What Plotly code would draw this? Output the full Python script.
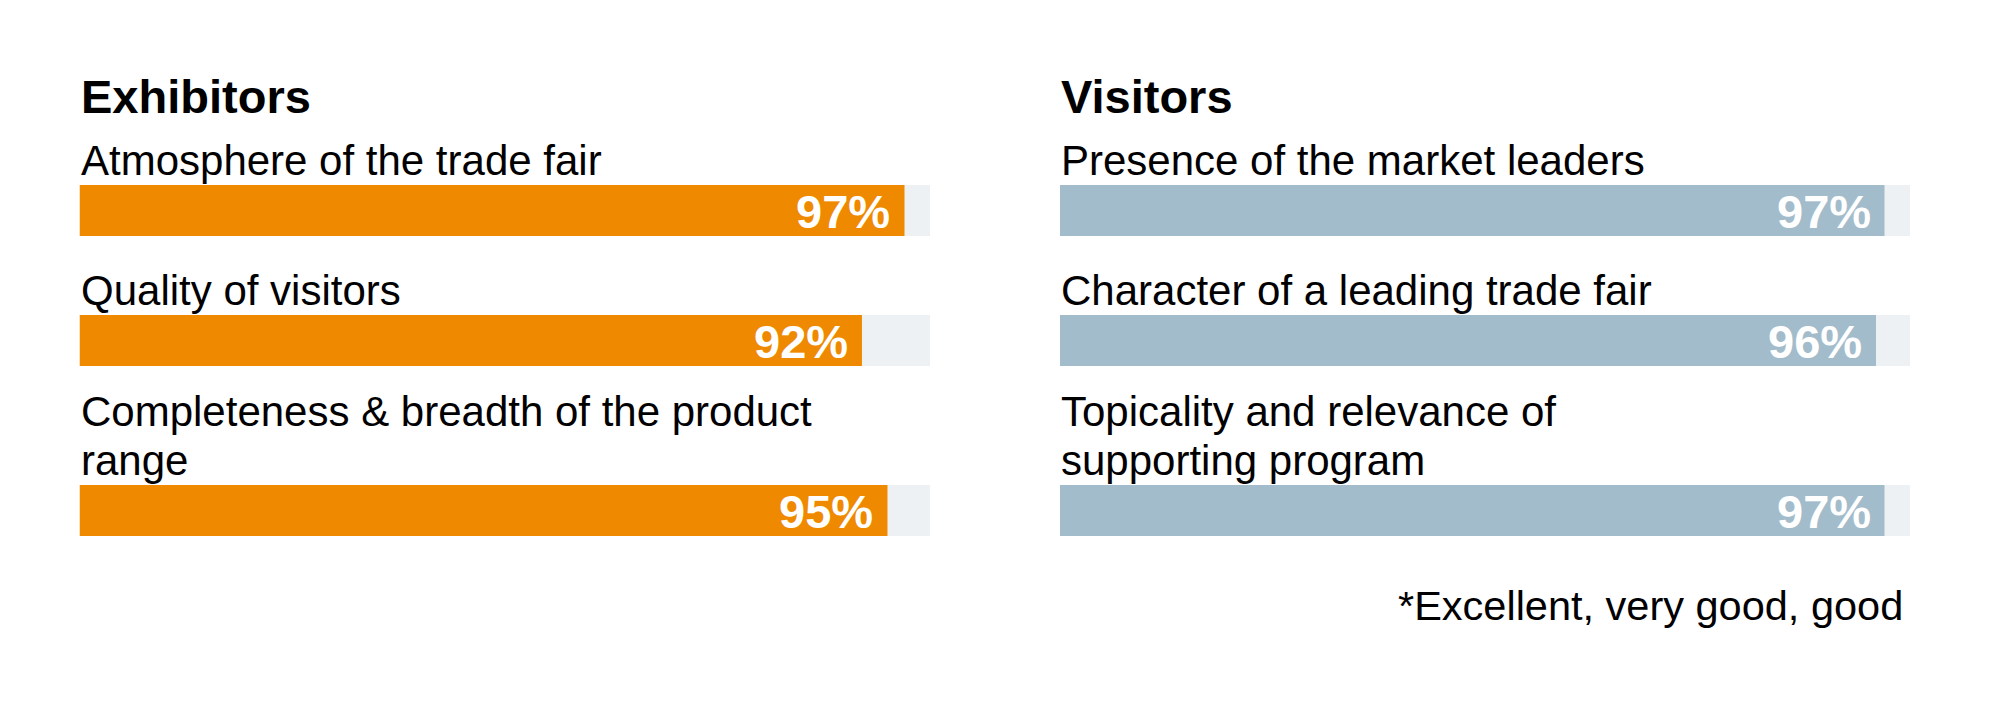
import plotly.graph_objects as go

# data
exhibitor_labels = ["Atmosphere of the trade fair",
                    "Quality of visitors",
                    "Completeness & breadth of the product<br>range"]
exhibitor_values = [97, 92, 95]

visitor_labels = ["Presence of the market leaders",
                  "Character of a leading trade fair",
                  "Topicality and relevance of<br>supporting program"]
visitor_values = [97, 96, 97]

panel_titles = ["Exhibitors", "Visitors"]
footnote = "*Excellent, very good, good"

# styles / layout (page pixel units on y; the page body has an 8px margin)
PAGE_W, PAGE_H = 2000, 706
PAD = 8
W, H = PAGE_W - 2 * PAD, PAGE_H - 2 * PAD
ORANGE = "#EF8A00"
STEEL = "#A3BCCB"
TRACK = "#EEF1F4"
FONT = "Liberation Sans, Arial, sans-serif"
LABEL_FS = 42
BAR_H = 51
FIRST_TOP = 185
ROW_GAP = 39
LINE_STEP = 40
TEXT_LINE_H = 49


def px(x):
    # page x pixel -> paper fraction of the figure
    return (x - PAD) / W


def row_tops(labels):
    tops = []
    t = FIRST_TOP
    for i, lab in enumerate(labels):
        if i > 0:
            t += BAR_H + ROW_GAP + LINE_STEP * (lab.count("<br>") + 1)
        tops.append(t)
    return tops


fig = go.Figure()
annotations = []

panels = [
    ("x", exhibitor_labels, exhibitor_values, ORANGE, panel_titles[0]),
    ("x2", visitor_labels, visitor_values, STEEL, panel_titles[1]),
]

for xref, labels, values, color, title in panels:
    tops = row_tops(labels)
    centers = [t + BAR_H / 2 for t in tops]
    fig.add_trace(go.Bar(x=[100] * len(values), y=centers, orientation="h",
                         width=BAR_H, marker_color=TRACK, marker_line_width=0,
                         xaxis=xref, yaxis="y", hoverinfo="skip", showlegend=False))
    fig.add_trace(go.Bar(x=values, y=centers, orientation="h",
                         width=BAR_H, marker_color=color, marker_line_width=0,
                         xaxis=xref, yaxis="y", showlegend=False))
    annotations.append(dict(x=0, y=124, xref=xref, yref="y", text="<b>%s</b>" % title,
                            xanchor="left", yanchor="bottom", showarrow=False, borderpad=0,
                            font=dict(family=FONT, size=47, color="black")))
    for lab, v, t, c in zip(labels, values, tops, centers):
        lines = lab.split("<br>")
        for k, line in enumerate(reversed(lines)):
            annotations.append(dict(x=0, y=t - k * TEXT_LINE_H, xref=xref, yref="y",
                                    text=line, xanchor="left", yanchor="bottom",
                                    showarrow=False, borderpad=0,
                                    font=dict(family=FONT, size=LABEL_FS, color="black")))
        annotations.append(dict(x=v, y=c + 1, xref=xref, yref="y", text="<b>%d%%</b>" % v,
                                xanchor="right", yanchor="middle", xshift=-13,
                                showarrow=False, borderpad=0,
                                font=dict(family=FONT, size=47, color="white")))

annotations.append(dict(x=px(1904), y=630, xref="paper", yref="y", text=footnote,
                        xanchor="right", yanchor="bottom", showarrow=False, borderpad=0,
                        font=dict(family=FONT, size=41.5, color="black")))

fig.update_layout(
    width=W, height=H,
    margin=dict(l=0, r=0, t=0, b=0),
    paper_bgcolor="white", plot_bgcolor="white",
    barmode="overlay",
    xaxis=dict(domain=[px(79.5), px(930)], range=[0, 100], visible=False, fixedrange=True),
    xaxis2=dict(domain=[px(1060), px(1910)], range=[0, 100], visible=False, fixedrange=True,
                anchor="y"),
    yaxis=dict(domain=[0, 1], range=[PAGE_H - PAD, PAD], visible=False, fixedrange=True),
    annotations=annotations,
)

fig.write_html("out.html")
